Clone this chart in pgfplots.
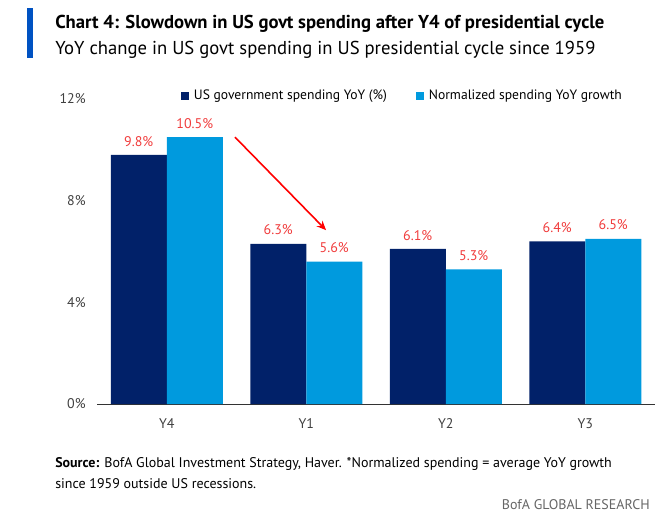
\documentclass[border=0pt]{standalone}
\usepackage{pgfplots}
\pgfplotsset{compat=1.18}
\usepackage{fontspec}
\setmainfont{PT Sans}
\usetikzlibrary{arrows.meta}
\definecolor{navy}{HTML}{012169}
\definecolor{cyanb}{HTML}{009ADE}
\definecolor{bofablue}{HTML}{0052C2}
\definecolor{lblred}{HTML}{F03C3C}
\begin{document}
\begin{tikzpicture}
\useasboundingbox (0,0) rectangle (504pt,391.5pt);
\fill[bofablue] (20.25pt,348pt) rectangle (24.75pt,385.5pt);
\node[anchor=west,inner sep=0pt,font=\fontsize{14}{16}\selectfont\bfseries] at (41.25pt,373.5pt) {Chart 4: Slowdown in US govt spending after Y4 of presidential cycle};
\node[anchor=west,inner sep=0pt,font=\fontsize{14}{16}\selectfont] at (41.25pt,354pt) {YoY change in US govt spending in US presidential cycle since 1959};
\node[anchor=west,inner sep=0pt,font=\fontsize{10.5}{12}\selectfont] at (41.25pt,43.5pt) {\textbf{Source:} BofA Global Investment Strategy, Haver. *Normalized spending = average YoY growth};
\node[anchor=west,inner sep=0pt,font=\fontsize{10.5}{12}\selectfont] at (41.25pt,28.5pt) {since 1959 outside US recessions.};
\node[anchor=east,inner sep=0pt,text=black!60,font=\fontsize{10.5}{12}\selectfont] at (487.5pt,12.75pt) {BofA GLOBAL RESEARCH};
\begin{axis}[
  at={(72.75pt,88.5pt)}, anchor=south west,
  scale only axis, width=418.5pt, height=228.75pt,
  ybar=0pt, bar width=42pt,
  xmin=-0.5, xmax=3.5, ymin=0, ymax=12,
  xtick=data, xticklabels={Y4,Y1,Y2,Y3},
  ytick={0,4,8,12},
  yticklabel={\pgfmathprintnumber{\tick}\%},
  /pgf/number format/assume math mode=true,
  tick style={draw=none},
  axis x line*=bottom, axis y line*=left,
  x axis line style={draw=black!80, -},
  y axis line style={draw=none},
  ticklabel style={font=\fontsize{10.5}{12}\selectfont, text=black!75},
  yticklabel style={xshift=-5pt},
  xticklabel style={yshift=-3pt},
  nodes near coords={\pgfmathprintnumber[fixed,precision=1,fixed zerofill]{\pgfplotspointmeta}\%},
  every node near coord/.append style={font=\fontsize{10.5}{12}\selectfont, text=lblred, yshift=3pt},
  legend style={at={(0.1505,1.0098)}, anchor=west, draw=none, inner sep=0pt,
    legend columns=2, font=\fontsize{10.2}{12}\selectfont,
    /tikz/every even column/.append style={column sep=20pt}},
  legend image code/.code={\fill[#1] (0pt,-2.8pt) rectangle (5.6pt,2.8pt); \path (7.5pt,0pt);},
  clip=false,
]
\addplot[fill=navy, draw=none] coordinates {(0,9.8) (1,6.3) (2,6.1) (3,6.4)};
\addplot[fill=cyanb, draw=none] coordinates {(0,10.5) (1,5.6) (2,5.3) (3,6.5)};
\legend{US government spending YoY (\%), Normalized spending YoY growth}
\draw[red, line width=1.2pt, -{Stealth[length=7pt,width=6pt]}] (axis cs:0.489,10.5) -- (axis cs:1.142,6.84);
\end{axis}
\end{tikzpicture}
\end{document}
